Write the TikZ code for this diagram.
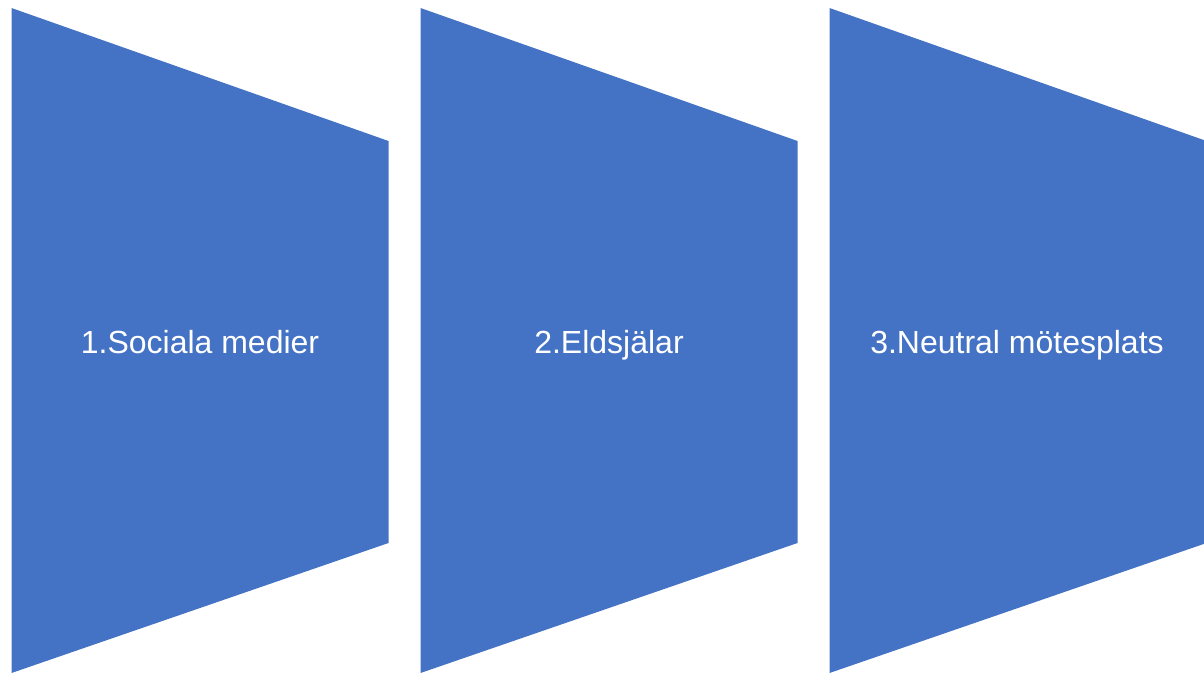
\documentclass[tikz,border=0pt]{standalone}
\usepackage{fontspec}
\setmainfont{Liberation Sans}
\definecolor{chevblue}{HTML}{4472C4}
\begin{document}
\begin{tikzpicture}[x=1pt,y=-1pt,
  trap/.style={fill=chevblue,draw=none},
  lbl/.style={text=white,font=\fontsize{32}{38}\selectfont,inner sep=0pt,anchor=base}]
\useasboundingbox (0,0) rectangle (1204,673);
\begin{scope}
\clip (0,0) rectangle (1204,673);
\fill[trap] (11.5,8) -- (388.5,141) -- (388.5,543) -- (11.5,673) -- cycle;
\fill[trap] (420.5,8) -- (797.5,141) -- (797.5,543) -- (420.5,673) -- cycle;
\fill[trap] (829.5,8) -- (1206.5,141) -- (1206.5,543) -- (829.5,673) -- cycle;
\end{scope}
\node[lbl] (t1) at (200,353) {1.Sociala medier};
\node[lbl] (t2) at (609,353) {2.Eldsjälar};
\node[lbl] (t3) at (1017,353) {3.Neutral mötesplats};
\end{tikzpicture}
\end{document}
